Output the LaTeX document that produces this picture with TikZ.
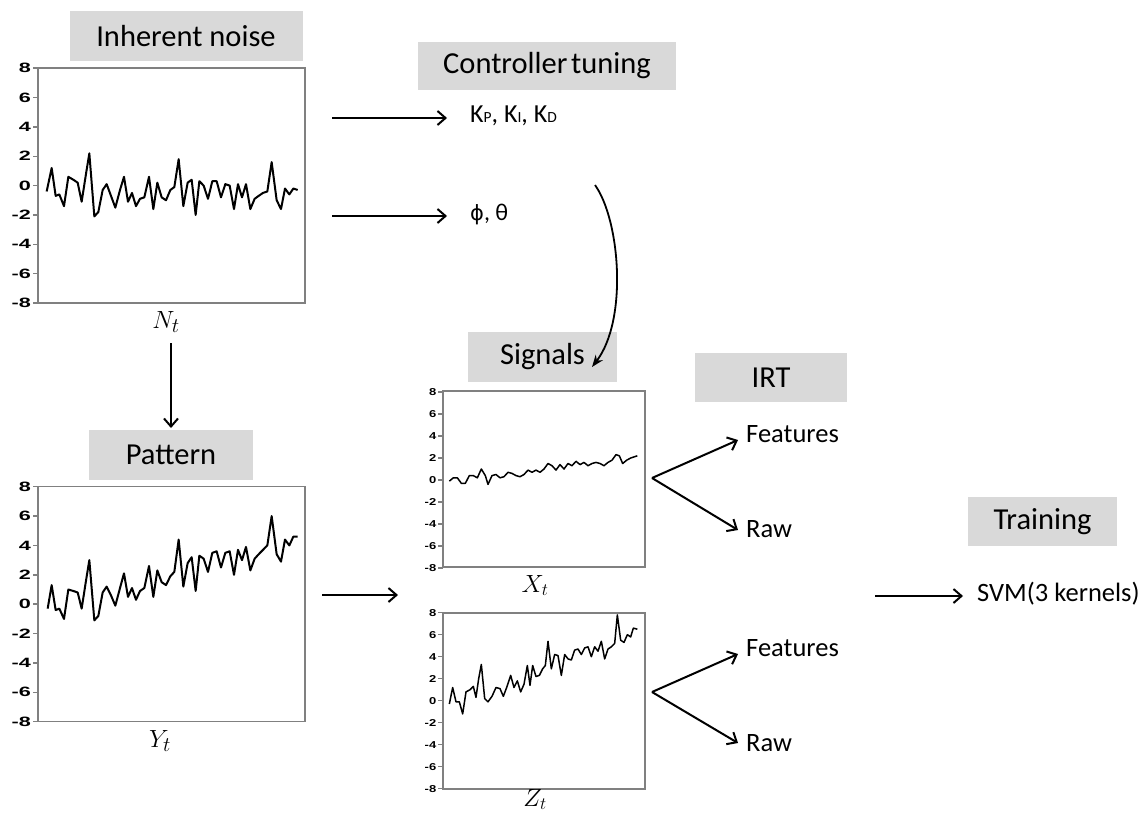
\documentclass[tikz,border=0pt]{standalone}
\usepackage{fontspec}
\usepackage{graphicx}
\setmainfont{Carlito}
\newfontfamily\tickfont{Liberation Sans}
\newfontfamily\greekfont{DejaVu Sans}
\usetikzlibrary{arrows.meta}
\definecolor{boxgray}{HTML}{D9D9D9}
\definecolor{framegray}{HTML}{808080}
\tikzset{
  hdr/.style={fill=boxgray, inner sep=0pt, text=black, font=\fontsize{30.5}{33}\selectfont},
  lbl/.style={inner sep=0pt, anchor=base west, font=\fontsize{26.5}{29}\selectfont},
  mathlbl/.style={inner sep=0pt, anchor=base, font=\fontsize{31}{33}\selectfont},
  smathlbl/.style={inner sep=0pt, anchor=base, font=\fontsize{24.5}{26}\selectfont},
  bigframe/.style={draw=framegray, line width=1.5pt},
  smallframe/.style={draw=framegray, line width=1.2pt},
  bigsig/.style={line width=2pt, line join=round},
  smallsig/.style={line width=1.5pt, line join=round},
  arr/.style={line width=2pt, -{Straight Barb[length=8pt,width=14pt]}},
  bigtick/.style={inner sep=0pt, anchor=east, font=\tickfont\bfseries\fontsize{13.5}{13.5}\selectfont},
  smalltick/.style={inner sep=0pt, anchor=east, font=\tickfont\bfseries\fontsize{10}{10}\selectfont},
}
\begin{document}
\begin{tikzpicture}[x=1pt,y=-1pt]
\useasboundingbox (0,0) rectangle (1148,816);

% ---------- header boxes ----------
\node[hdr, minimum width=233pt, minimum height=50pt] (hnoise) at (186,36) {Inherent noise};
\node[hdr, minimum width=258pt, minimum height=48pt] (hctrl) at (547,66) {Controller\hspace{0.12em}tuning};
\node[hdr, minimum width=164pt, minimum height=50pt] (hpat) at (171,455) {Pattern};
\node[hdr, minimum width=149pt, minimum height=50pt] (hsig) at (542.5,357) {Signals};
\node[hdr, minimum width=152pt, minimum height=49pt] (hirt) at (771,377.5) {IRT};
\node[hdr, minimum width=149pt, minimum height=49pt] (htrain) at (1042.5,521.5) {Training};

% ---------- plot 1: inherent noise ----------
\draw[bigframe] (38,68) rectangle (305,303);
\foreach \v [count=\i] in {-8,-6,...,8} {
  \draw[bigframe] (33,{185.6-14.67*(\v)}) -- (38,{185.6-14.67*(\v)});
  \node[bigtick] (ta\i) at (31,{185.6-14.67*(\v)}) {\scalebox{1.6}[1]{\v}};
}
\begin{scope}[shift={(0,185.6)}, xscale=0.33333, yscale=-14.67]
\draw[bigsig] plot coordinates {(140,-0.4) (155,1.2) (167,-0.7) (178,-0.6) (192,-1.4) (205,0.6) (220,0.4) (233,0.2) (245,-1.1) (258,0.8) (268,2.2) (283,-2.1) (295,-1.8) (308,-0.3) (320,0.1) (333,-0.7) (346,-1.5) (360,-0.3) (372,0.6) (384,-1.1) (396,-0.5) (408,-1.4) (420,-0.9) (433,-0.8) (447,0.6) (460,-1.6) (472,0.2) (485,-0.8) (498,-1.0) (511,-0.3) (523,-0.1) (536,1.8) (550,-1.4) (563,0.2) (575,0.4) (587,-2.0) (598,0.3) (611,0.0) (624,-0.9) (637,0.3) (650,0.3) (663,-0.8) (676,0.1) (689,0.0) (702,-1.6) (714,0.1) (726,-0.8) (738,0.1) (751,-1.6) (764,-0.9) (776,-0.7) (789,-0.5) (802,-0.4) (815,1.6) (830,-1.0) (843,-1.6) (855,-0.2) (868,-0.6) (880,-0.2) (893,-0.3)};
\end{scope}
\node[mathlbl] (nt) at (166,328) {$N_t$};

% ---------- plot 2: pattern ----------
\draw[bigframe] (38,486.7) rectangle (305,721.7);
\foreach \v [count=\i] in {-8,-6,...,8} {
  \draw[bigframe] (33,{604.2-14.69*(\v)}) -- (38,{604.2-14.69*(\v)});
  \node[bigtick] (tb\i) at (31,{604.2-14.69*(\v)}) {\scalebox{1.6}[1]{\v}};
}
\begin{scope}[shift={(0,604.2)}, xscale=0.33333, yscale=-14.69]
\draw[bigsig] plot coordinates {(143,-0.3) (155,1.3) (167,-0.4) (178,-0.3) (192,-1.0) (205,1.0) (220,0.9) (233,0.8) (245,-0.3) (258,1.6) (268,3.0) (283,-1.1) (295,-0.8) (308,0.8) (320,1.2) (333,0.6) (346,-0.1) (360,1.1) (372,2.1) (384,0.5) (396,1.1) (408,0.3) (420,0.9) (433,1.1) (447,2.6) (460,0.5) (472,2.3) (485,1.5) (498,1.3) (511,1.9) (523,2.2) (536,4.4) (550,1.2) (563,2.8) (575,3.2) (587,0.9) (598,3.3) (611,3.1) (624,2.2) (637,3.5) (650,3.6) (663,2.5) (676,3.5) (689,3.6) (702,2.0) (714,3.7) (726,3.0) (738,3.9) (751,2.3) (764,3.1) (776,3.4) (789,3.7) (802,4.0) (815,6.0) (830,3.4) (843,2.9) (855,4.4) (868,4.0) (880,4.6) (893,4.6)};
\end{scope}
\node[mathlbl] (yt) at (160,747) {$Y_t$};

% ---------- plot 3: X_t ----------
\draw[smallframe] (443,391) rectangle (645,567);
\foreach \v [count=\i] in {-8,-6,...,8} {
  \draw[smallframe] (438,{480-11*(\v)}) -- (443,{480-11*(\v)});
  \node[smalltick] (tc\i) at (436.5,{480-11*(\v)}) {\scalebox{1.3}[1]{\v}};
}
\begin{scope}[shift={(400,480)}, xscale=0.33333, yscale=-11]
\draw[smallsig] plot coordinates {(148,-0.1) (160,0.2) (172,0.2) (184,-0.3) (196,-0.3) (208,0.4) (220,0.4) (232,0.2) (244,1.0) (256,0.4) (264,-0.4) (276,0.4) (288,0.5) (300,0.2) (312,0.3) (324,0.7) (336,0.6) (348,0.4) (360,0.3) (372,0.5) (384,0.9) (396,0.7) (408,0.9) (420,0.7) (432,1.0) (444,1.5) (456,1.3) (468,0.9) (480,1.4) (492,1.0) (504,1.5) (516,1.3) (528,1.7) (540,1.4) (552,1.6) (564,1.3) (576,1.5) (588,1.6) (600,1.5) (612,1.3) (624,1.6) (636,1.8) (648,2.3) (658,2.2) (668,1.5) (680,1.8) (692,2.0) (712,2.2)};
\end{scope}
\node[smathlbl] (xt) at (535,592) {$X_t$};

% ---------- plot 4: Z_t ----------
\draw[smallframe] (443,613) rectangle (645,789);
\foreach \v [count=\i] in {-8,-6,...,8} {
  \draw[smallframe] (438,{700.7-11*(\v)}) -- (443,{700.7-11*(\v)});
  \node[smalltick] (td\i) at (436.5,{700.7-11*(\v)}) {\scalebox{1.3}[1]{\v}};
}
\begin{scope}[shift={(400,700.7)}, xscale=0.33333, yscale=-11]
\draw[smallsig] plot coordinates {(148,-0.3) (158,1.2) (168,-0.1) (178,-0.1) (188,-1.2) (198,0.8) (210,1.0) (220,1.3) (228,0.3) (236,2.0) (244,3.3) (254,0.2) (264,-0.1) (276,0.4) (288,1.2) (300,1.1) (310,0.4) (320,1.2) (332,2.3) (342,1.2) (352,1.8) (362,0.8) (372,1.5) (382,3.2) (390,1.4) (398,3.2) (408,2.2) (418,2.3) (428,2.9) (436,3.2) (444,5.4) (454,2.9) (464,4.2) (474,4.1) (484,2.3) (494,4.2) (504,3.8) (514,3.7) (524,4.6) (534,4.7) (544,4.2) (554,4.8) (564,4.9) (574,4.0) (584,4.9) (594,4.5) (604,5.4) (614,3.8) (624,4.7) (634,4.9) (644,5.2) (652,7.8) (662,5.5) (672,5.3) (682,6.0) (692,5.8) (700,6.6) (712,6.5)};
\end{scope}
\node[smathlbl] (zt) at (535,806) {$Z_t$};

% ---------- text labels ----------
\node[lbl, font=\fontsize{26}{28}\selectfont] (kpid) at (470,122)
  {K{\fontsize{15.5}{16}\selectfont P}, K{\fontsize{15.5}{16}\selectfont I}, K{\fontsize{15.5}{16}\selectfont D}};
\node[lbl, font=\fontsize{24}{26}\selectfont] (phth) at (470,220) {{\greekfont\fontsize{21}{24}\selectfont ϕ}, θ};
\node[lbl] (feat1) at (746,442.7) {Features};
\node[lbl] (raw1) at (746,537.7) {Raw};
\node[lbl] (feat2) at (746,656) {Features};
\node[lbl] (raw2) at (746,751.7) {Raw};
\node[lbl, font=\fontsize{26.5}{28}\selectfont] (svm) at (977,601.7) {SVM(3 kernels)};

% ---------- connector end points ----------
\coordinate (a1s) at (332,118);  \coordinate (a1e) at (447,118);
\coordinate (a2s) at (332,216);  \coordinate (a2e) at (447,216);
\coordinate (vs) at (171,343);   \coordinate (ve) at (171,428);
\coordinate (ps) at (322,595);   \coordinate (pe) at (398,595);
\coordinate (ts) at (875,596);   \coordinate (te) at (963,596);
\coordinate (cs) at (595,185);   \coordinate (ce) at (592,367);
\coordinate (v1) at (652,478);   \coordinate (f1) at (738,440);  \coordinate (r1) at (738,530);
\coordinate (v2) at (652,692);   \coordinate (f2) at (738,654);  \coordinate (r2) at (738,743);

% ---------- connectors ----------
\draw[arr] (a1s) -- (a1e);
\draw[arr] (a2s) -- (a2e);
\draw[arr] (vs) -- (ve);
\draw[arr] (ps) -- (pe);
\draw[arr] (ts) -- (te);
\draw[arr] (v1) -- (f1);
\draw[arr] (v1) -- (r1);
\draw[arr] (v2) -- (f2);
\draw[arr] (v2) -- (r2);
\draw[line width=1.8pt, -{Stealth[length=12pt,width=9pt]}] (cs) .. controls (620,220) and (628,320) .. (ce);
\end{tikzpicture}
\end{document}
